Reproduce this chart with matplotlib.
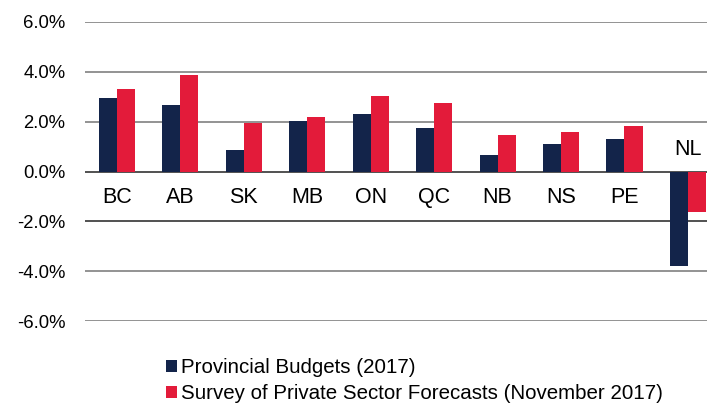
import matplotlib
matplotlib.use("Agg")
import matplotlib.pyplot as plt
import numpy as np

plt.rcParams['font.family'] = ['Liberation Sans', 'DejaVu Sans']

provinces = ['BC', 'AB', 'SK', 'MB', 'ON', 'QC', 'NB', 'NS', 'PE', 'NL']
budgets = [2.94, 2.67, 0.85, 2.04, 2.31, 1.76, 0.66, 1.11, 1.30, -3.81]
survey = [3.30, 3.86, 1.95, 2.20, 3.03, 2.76, 1.48, 1.57, 1.84, -1.62]
yticks = [-6, -4, -2, 0, 2, 4, 6]

navy = '#13244a'
red = '#e31b3a'

fig = plt.figure(figsize=(7.07, 4.05), dpi=100)
ax = fig.add_axes([85 / 707, 1 - 321 / 405, 1 - 85 / 707, (321 - 22) / 405])

x = np.arange(len(provinces))
w = 0.284
ax.bar(x - w / 2, budgets, w, color=navy, label='Provincial Budgets (2017)', zorder=3)
ax.bar(x + w / 2, survey, w, color=red, label='Survey of Private Sector Forecasts (November 2017)', zorder=3)

for yt in yticks:
    c = '#333333' if yt in (0, -2) else '#808080'
    ax.axhline(yt, color=c, lw=1.2, zorder=2)

ax.set_xlim(-0.5, 9.3)
ax.set_ylim(-6, 6)
ax.set_yticks(yticks)
ax.set_yticklabels(['%.1f%%' % v for v in yticks], fontsize=13.3)
ax.tick_params(axis='y', length=0, pad=14)
ax.set_xticks([])
for s in ax.spines.values():
    s.set_visible(False)

# category labels under the zero line (NL above it)
for i, p in enumerate(provinces):
    if budgets[i] < 0:
        ax.text(i, 0.45, p, ha='center', va='bottom', fontsize=15.5)
    else:
        ax.text(i, -0.62, p, ha='center', va='top', fontsize=15.5)

ax.legend(loc='upper left', bbox_to_anchor=(166 / 707, 1 - 358 / 405), bbox_transform=fig.transFigure,
          frameon=False, fontsize=14.8, handlelength=0.55, handleheight=0.55,
          handletextpad=0.2, labelspacing=0.35, borderpad=0, borderaxespad=0)

fig.savefig('out.png', dpi=100)
